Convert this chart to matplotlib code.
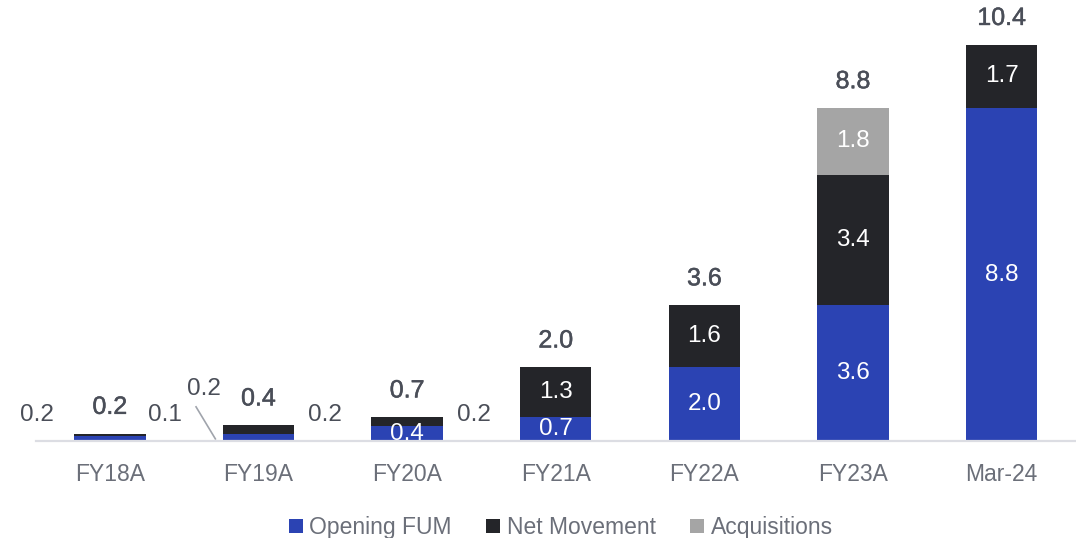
import matplotlib.pyplot as plt
import matplotlib.patheffects as pe
import numpy as np

plt.rcParams['font.family'] = ['Liberation Sans', 'DejaVu Sans']

categories = ["FY18A", "FY19A", "FY20A", "FY21A", "FY22A", "FY23A", "Mar-24"]
opening = [0.13, 0.2, 0.4, 0.63, 1.94, 3.57, 8.74]
net_movement = [0.07, 0.22, 0.23, 1.31, 1.63, 3.41, 1.66]
acquisitions = [0, 0, 0, 0, 0, 1.76, 0]

totals_lbl = ["0.2", "0.4", "0.7", "2.0", "3.6", "8.8", "10.4"]
opening_lbl = ["0.2", "0.2", "0.4", "0.7", "2.0", "3.6", "8.8"]
net_lbl = ["0.1", "0.2", "0.2", "1.3", "1.6", "3.4", "1.7"]
acq_lbl = ["", "", "", "", "", "1.8", ""]

c_open = "#2b43b3"
c_net = "#242529"
c_acq = "#a5a5a5"
c_txt = "#4a4e58"

fig = plt.figure(figsize=(10.76, 5.38), dpi=100)
ax = fig.add_axes([0.033, 0.18, 0.967, 0.815])

x = np.arange(len(categories))
w = 0.48
op = np.array(opening)
nm = np.array(net_movement)
aq = np.array(acquisitions)

ax.bar(x, op, w, color=c_open, label="Opening FUM")
ax.bar(x, nm, w, bottom=op, color=c_net, label="Net Movement")
ax.bar(x, aq, w, bottom=op + nm, color=c_acq, label="Acquisitions")

# totals a bit heavier than the other labels
thick = [pe.withStroke(linewidth=0.35, foreground=c_txt)]
tot = op + nm + aq
for i in range(len(x)):
    ax.text(x[i], tot[i] + 0.7, totals_lbl[i], ha="center", va="center",
            fontsize=18, color=c_txt, path_effects=thick)
    if i >= 2:
        ax.text(x[i], op[i] / 2, opening_lbl[i], ha="center", va="center",
                fontsize=17.5, color="white")
    if i >= 3:
        ax.text(x[i], op[i] + nm[i] / 2, net_lbl[i], ha="center", va="center",
                fontsize=17.5, color="white")
    if acq_lbl[i]:
        ax.text(x[i], op[i] + nm[i] + aq[i] / 2, acq_lbl[i], ha="center",
                va="center", fontsize=17.5, color="white")

# small values placed outside the bars
ax.text(x[0] - 0.49, 0.68, opening_lbl[0], ha="center", va="center", fontsize=17.5, color=c_txt)
ax.text(x[0] + 0.37, 0.68, net_lbl[0], ha="center", va="center", fontsize=17.5, color=c_txt)
ax.text(x[1] - 0.37, 1.38, opening_lbl[1], ha="center", va="center", fontsize=17.5, color=c_txt)
ax.plot([x[1] - 0.42, x[1] - 0.29], [0.9, 0.06], color="#a0a4ac", lw=1.2)
ax.text(x[1] + 0.45, 0.68, net_lbl[1], ha="center", va="center", fontsize=17.5, color=c_txt)
ax.text(x[2] + 0.45, 0.68, net_lbl[2], ha="center", va="center", fontsize=17.5, color=c_txt)

ax.set_xlim(-0.5, 6.5)
ax.set_ylim(0, 11.5)
ax.set_xticks(x)
ax.set_xticklabels(categories, fontsize=16.5, color="#6b6f79")
ax.tick_params(axis="x", length=0, pad=16)
ax.set_yticks([])
for s in ["top", "right", "left"]:
    ax.spines[s].set_visible(False)
ax.spines["bottom"].set_color("#dcdde3")
ax.spines["bottom"].set_linewidth(1.6)

leg = ax.legend(loc="lower center", bbox_to_anchor=(0.505, -0.27), ncol=3,
                frameon=False, fontsize=16.5, handlelength=0.6, handleheight=0.6,
                handletextpad=0.3, columnspacing=1.5)
for t in leg.get_texts():
    t.set_color("#6b6f79")

fig.savefig("out.png", dpi=100)
